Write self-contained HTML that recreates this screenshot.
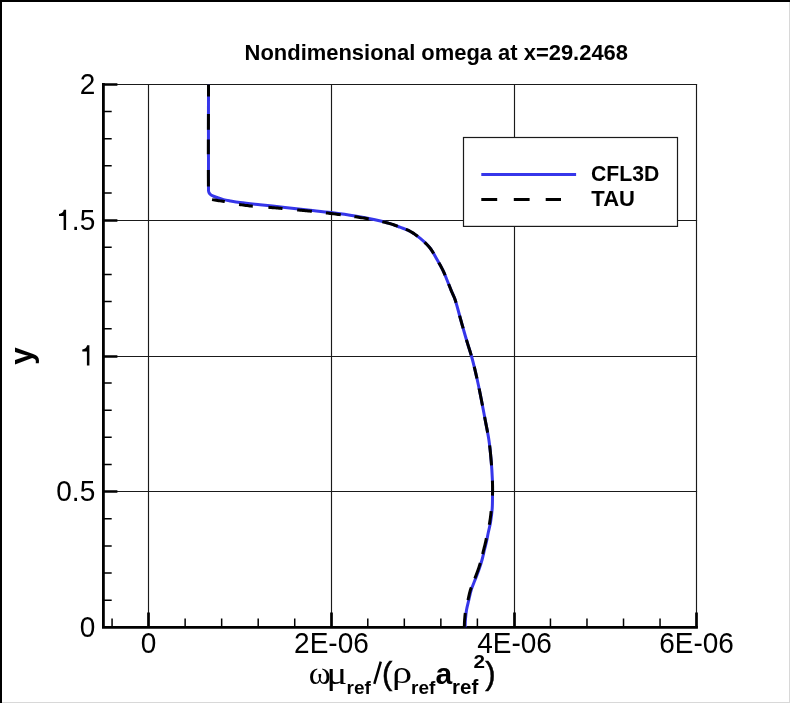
<!DOCTYPE html><html><head><meta charset="utf-8"><style>html,body{margin:0;padding:0;width:790px;height:703px;overflow:hidden;background:#fff}</style></head><body><svg width="790" height="703" viewBox="0 0 790 703" style="position:absolute;left:0;top:0;will-change:transform">
<rect x="0" y="0" width="790" height="703" fill="#fff"/>
<rect x="0" y="0" width="790" height="2" fill="#000"/>
<rect x="0" y="0" width="2" height="703" fill="#000"/>
<rect x="789" y="2" width="1" height="701" fill="#d8d8d8"/>
<rect x="2" y="702" width="788" height="1" fill="#d8d8d8"/>
<path d="M148.5 84.4V627.4 M331.5 84.4V627.4 M514.5 84.4V627.4 M696.5 84.4V627.4 M103.4 84.5H697.15 M103.4 220.5H697.15 M103.4 356.5H697.15 M103.4 491.5H697.15" stroke="#1a1a1a" stroke-width="1.15" fill="none"/>
<path d="M112.07 627.4V618.4 M185.13 627.4V618.4 M221.66 627.4V618.4 M258.20 627.4V618.4 M294.73 627.4V618.4 M367.79 627.4V618.4 M404.32 627.4V618.4 M440.86 627.4V618.4 M477.39 627.4V618.4 M550.45 627.4V618.4 M586.98 627.4V618.4 M623.52 627.4V618.4 M660.05 627.4V618.4 M103.4 600.25H111.7 M103.4 573.10H111.7 M103.4 545.95H111.7 M103.4 518.80H111.7 M103.4 464.50H111.7 M103.4 437.35H111.7 M103.4 410.20H111.7 M103.4 383.05H111.7 M103.4 328.75H111.7 M103.4 301.60H111.7 M103.4 274.45H111.7 M103.4 247.30H111.7 M103.4 193.00H111.7 M103.4 165.85H111.7 M103.4 138.70H111.7 M103.4 111.55H111.7" stroke="#000" stroke-width="1.5" fill="none"/>
<path d="M148.5 627.4V612.4 M331.5 627.4V612.4 M514.5 627.4V612.4 M696.5 627.4V612.4 M103.4 84.5H117.4 M103.4 220.5H117.4 M103.4 356.5H117.4 M103.4 491.5H117.4" stroke="#000" stroke-width="2.7" fill="none"/>
<path d="M103.4 83.05000000000001V627.4H697.9" stroke="#000" stroke-width="2.8" fill="none" stroke-linejoin="miter"/>
<defs><clipPath id="pc"><rect x="103.4" y="84.4" width="593.1" height="543.0"/></clipPath></defs>
<g clip-path="url(#pc)">
<path d="M208.50 84.40C208.50 119.73 208.27 155.10 208.50 190.40C208.51 191.30 208.81 192.22 209.20 193.00C209.51 193.62 210.05 194.17 210.60 194.60C211.25 195.10 212.04 195.46 212.80 195.80C214.17 196.42 215.58 196.99 217.00 197.50C219.14 198.26 221.30 199.02 223.50 199.60C225.63 200.16 227.82 200.52 230.00 200.90C233.32 201.48 236.65 202.07 240.00 202.50C246.65 203.35 253.33 204.02 260.00 204.75C268.33 205.66 276.67 206.49 285.00 207.40C293.34 208.31 301.67 209.26 310.00 210.20C317.00 210.99 324.01 211.70 331.00 212.60C339.01 213.63 347.03 214.70 355.00 216.00C361.70 217.10 368.37 218.36 375.00 219.80C380.04 220.89 385.06 222.14 390.00 223.60C393.39 224.60 396.69 225.94 400.00 227.20C403.36 228.48 406.88 229.48 410.00 231.20C413.54 233.15 416.89 235.59 420.00 238.20C423.56 241.19 427.11 244.38 430.00 248.00C432.78 251.48 434.76 255.62 437.00 259.50C439.09 263.12 441.17 266.75 443.00 270.50C444.50 273.58 445.70 276.82 447.00 280.00C448.36 283.32 449.64 286.68 451.00 290.00C452.37 293.35 454.08 296.57 455.20 300.00C457.35 306.57 458.92 313.34 460.80 320.00C462.68 326.67 464.54 333.35 466.50 340.00C468.27 346.02 470.37 351.95 472.00 358.00C473.97 365.28 475.65 372.64 477.30 380.00C478.79 386.64 480.08 393.32 481.40 400.00C482.71 406.66 483.95 413.33 485.20 420.00C486.45 426.66 487.91 433.30 488.90 440.00C489.88 446.63 490.52 453.32 491.10 460.00C491.68 466.65 492.13 473.33 492.40 480.00C492.60 484.99 492.53 490.00 492.50 495.00C492.47 499.57 492.53 504.15 492.20 508.70C491.87 513.28 491.24 517.86 490.50 522.40C489.97 525.63 489.07 528.79 488.40 532.00C487.70 535.33 487.14 538.68 486.40 542.00C485.80 544.68 485.05 547.33 484.40 550.00C483.59 553.33 482.92 556.70 482.00 560.00C481.06 563.37 479.96 566.70 478.80 570.00C477.62 573.36 476.27 576.67 475.00 580.00C473.73 583.33 472.25 586.60 471.20 590.00C470.19 593.27 469.58 596.66 468.80 600.00C468.02 603.33 467.07 606.63 466.50 610.00C465.94 613.30 465.67 616.66 465.40 620.00C465.20 622.46 465.20 624.93 465.10 627.40" stroke="#3636ea" stroke-width="3" fill="none" stroke-linejoin="round"/>
<path d="M208.50 84.40 L208.50 84.73 L208.50 86.07 L208.50 87.41 L208.50 88.74 L208.50 90.08 L208.50 91.42 L208.49 92.75 L208.49 94.09 L208.49 95.43 L208.49 96.60 M208.44 114.10 L208.44 114.15 L208.44 115.49 L208.44 116.82 L208.43 118.16 L208.43 119.50 L208.42 120.84 L208.42 122.17 L208.41 123.51 L208.41 124.85 L208.41 126.19 L208.40 127.52 L208.40 128.86 L208.39 129.80 M208.37 139.50 L208.37 139.56 L208.36 140.90 L208.36 142.23 L208.36 143.57 L208.36 144.91 L208.35 146.24 L208.35 147.58 L208.35 148.92 L208.35 150.26 L208.35 151.59 L208.34 152.93 L208.34 154.27 L208.34 154.30 M208.35 170.00 L208.35 170.30 L208.36 171.64 L208.36 172.97 L208.36 174.31 L208.37 175.64 L208.37 176.98 L208.38 178.32 L208.39 179.65 L208.39 180.99 L208.40 182.32 L208.41 183.66 L208.41 184.99 L208.42 186.33 L208.42 186.40 M212.10 199.58 L212.20 199.60 L213.52 199.85 L214.84 200.08 L216.16 200.29 L217.49 200.49 L218.82 200.68 L220.15 200.88 L221.48 201.07 L222.81 201.27 L224.14 201.49 L224.80 201.60 M239.10 204.38 L239.28 204.41 L240.60 204.65 L241.92 204.87 L243.25 205.08 L244.57 205.28 L245.90 205.45 L247.22 205.61 L248.55 205.76 L249.88 205.90 L251.20 206.03 L252.53 206.16 L252.80 206.18 M268.40 207.34 L268.51 207.35 L269.84 207.45 L271.17 207.55 L272.51 207.65 L273.84 207.76 L275.17 207.87 L276.50 207.99 L277.83 208.11 L279.17 208.22 L280.50 208.34 L281.84 208.46 L282.50 208.52 M297.20 209.88 L297.50 209.91 L298.84 210.04 L300.17 210.17 L301.50 210.30 L302.83 210.43 L304.17 210.57 L305.50 210.70 L306.83 210.84 L308.16 210.97 L309.49 211.11 L310.82 211.25 L311.90 211.36 M325.90 212.90 L326.10 212.92 L327.43 213.08 L328.76 213.23 L330.08 213.39 L331.41 213.55 L332.74 213.72 L334.06 213.88 L335.39 214.05 L336.71 214.22 L338.04 214.39 L339.36 214.56 L340.68 214.73 L340.80 214.75 M354.40 216.64 L354.57 216.66 L355.89 216.85 L357.21 217.05 L358.53 217.25 L359.85 217.45 L361.17 217.65 L362.49 217.86 L363.81 218.07 L365.13 218.30 L366.45 218.53 L367.77 218.77 L368.70 218.94 M382.30 221.72 L382.53 221.77 L383.84 222.06 L385.14 222.36 L386.45 222.67 L387.74 223.00 L389.03 223.33 L390.33 223.69 L391.64 224.09 L392.94 224.53 L394.23 224.99 L395.52 225.47 L396.80 225.96 L397.70 226.31 M405.80 229.30 L406.03 229.39 L407.28 229.90 L408.51 230.44 L409.71 231.04 L410.88 231.70 L412.04 232.39 L413.19 233.12 L414.32 233.87 L415.44 234.65 L416.54 235.45 L417.63 236.28 L417.80 236.42 M424.60 242.25 L424.77 242.40 L425.73 243.33 L426.68 244.28 L427.61 245.24 L428.50 246.23 L429.37 247.23 L430.21 248.26 L431.01 249.33 L431.77 250.44 L432.49 251.57 L433.19 252.72 L433.70 253.60 M438.80 262.64 L438.85 262.73 L439.52 263.91 L440.18 265.10 L440.83 266.29 L441.47 267.48 L442.09 268.68 L442.70 269.89 L443.30 271.12 L443.87 272.37 L444.42 273.63 L444.95 274.90 L445.10 275.28 M448.61 284.00 L448.63 284.06 L449.12 285.31 L449.62 286.56 L450.12 287.82 L450.62 289.06 L451.13 290.31 L451.66 291.56 L452.22 292.80 L452.78 294.04 L453.33 295.28 L453.87 296.52 L454.39 297.77 L454.87 299.04 L455.30 300.32 L455.71 301.59 L456.08 302.80 M459.60 315.60 L459.65 315.80 L460.00 317.09 L460.35 318.39 L460.71 319.68 L461.07 320.97 L461.44 322.26 L461.80 323.55 L462.16 324.84 L462.53 326.13 L462.89 327.43 L463.17 328.40 M466.41 339.70 L466.50 340.00 L466.88 341.29 L467.28 342.57 L467.68 343.86 L468.08 345.14 L468.49 346.42 L468.89 347.70 L469.30 348.99 L469.71 350.27 L470.11 351.55 L470.51 352.84 L470.89 354.12 L471.27 355.40 M474.25 366.80 L474.26 366.83 L474.57 368.15 L474.89 369.46 L475.20 370.78 L475.50 372.09 L475.81 373.41 L476.11 374.73 L476.41 376.05 L476.71 377.36 L476.96 378.50 M479.11 388.50 L479.11 388.51 L479.38 389.82 L479.64 391.13 L479.91 392.45 L480.17 393.76 L480.43 395.07 L480.69 396.39 L480.95 397.70 L481.21 399.01 L481.46 400.33 L481.72 401.64 L481.98 402.95 L482.23 404.26 L482.48 405.57 L482.49 405.60 M484.62 416.90 L484.65 417.05 L484.89 418.36 L485.14 419.67 L485.39 420.98 L485.64 422.29 L485.89 423.60 L486.15 424.91 L486.41 426.22 L486.67 427.53 L486.92 428.84 L487.18 430.15 L487.43 431.46 L487.65 432.60 M489.63 445.40 L489.66 445.65 L489.81 446.98 L489.97 448.31 L490.11 449.65 L490.25 450.98 L490.39 452.32 L490.52 453.65 L490.65 454.99 L490.77 456.33 L490.89 457.66 L491.01 459.00 L491.13 460.33 L491.24 461.66 L491.35 463.00 L491.46 464.33 L491.53 465.30 M492.42 480.60 L492.43 480.67 L492.47 482.00 L492.51 483.33 L492.55 484.67 L492.57 486.00 L492.59 487.33 L492.60 488.67 L492.60 490.00 L492.58 491.34 L492.56 492.67 L492.53 494.00 L492.49 495.33 L492.48 495.60 M491.14 511.20 L491.12 511.38 L490.98 512.72 L490.83 514.06 L490.67 515.40 L490.51 516.74 L490.34 518.07 L490.15 519.41 L489.96 520.74 L489.75 522.07 L489.53 523.40 L489.27 524.70 M486.38 538.20 L486.36 538.34 L486.09 539.67 L485.82 541.00 L485.52 542.34 L485.21 543.67 L484.88 545.01 L484.54 546.34 L484.19 547.67 L483.85 549.00 L483.52 550.33 L483.20 551.67 L482.90 553.01 L482.65 554.10 M480.32 563.00 L480.24 563.25 L479.84 564.54 L479.42 565.83 L478.99 567.12 L478.55 568.40 L478.11 569.68 L477.66 570.94 L477.20 572.20 L476.73 573.45 L476.25 574.70 L475.77 575.95 L475.28 577.19 L474.81 578.40 M471.29 587.40 L471.26 587.47 L470.81 588.73 L470.40 590.00 L470.02 591.31 L469.67 592.64 L469.34 593.97 L469.04 595.31 L468.75 596.65 L468.45 597.99 L468.15 599.33 L467.95 600.20 M465.26 613.00 L465.23 613.32 L465.08 614.65 L464.94 615.99 L464.82 617.33 L464.71 618.66 L464.60 620.00 L464.51 621.34 L464.45 622.69 L464.40 624.03 L464.37 625.38 L464.33 626.73 L464.30 627.40" stroke="#000" stroke-width="3" fill="none" stroke-linejoin="round"/>
</g>
<rect x="463.5" y="137.5" width="214" height="88.9" fill="#fff" stroke="#1a1a1a" stroke-width="1.2"/>
<path d="M481.3 174.4H576.1" stroke="#3636ea" stroke-width="3"/>
<path d="M481.3 199.4H497.2M513.8 199.4H529.6M545.7 199.4H561" stroke="#000" stroke-width="3"/>
<text x="591" y="180.6" font-family="Liberation Sans" font-weight="bold" font-size="21.2">CFL3D</text>
<text transform="translate(591.3 205.6) scale(1.03 1)" x="0" y="0" font-family="Liberation Sans" font-weight="bold" font-size="21.4">TAU</text>
<text transform="translate(244.6 60.1) scale(1 1.02)" font-family="Liberation Sans" font-weight="bold" font-size="21.95">Nondimensional omega at x=29.2468</text>
<text transform="translate(95.2 94.0) scale(1 1.05)" font-family="Liberation Sans" font-size="28" text-anchor="end">2</text>
<path transform="translate(-23.3 -135.5)" d="M89.4 365.4H86.9V351.6H82.3V349.4C84.8 349.3 86.6 348.2 87.1 345.3H89.4Z" fill="#000"/>
<text transform="translate(95.2 230.0) scale(1 1.05)" font-family="Liberation Sans" font-size="28" text-anchor="end">.5</text>
<path transform="translate(0 0)" d="M89.4 365.4H86.9V351.6H82.3V349.4C84.8 349.3 86.6 348.2 87.1 345.3H89.4Z" fill="#000"/>
<text transform="translate(95.2 501.1) scale(1 1.05)" font-family="Liberation Sans" font-size="28" text-anchor="end">0.5</text>
<text transform="translate(95.2 637.0) scale(1 1.05)" font-family="Liberation Sans" font-size="28" text-anchor="end">0</text>
<text transform="translate(148.5 653.3) scale(1 1.05)" font-family="Liberation Sans" font-size="28" text-anchor="middle">0</text>
<text transform="translate(331.45 653.3) scale(1 1.05)" font-family="Liberation Sans" font-size="28" text-anchor="middle">2E-06</text>
<text transform="translate(514.5 653.3) scale(1 1.05)" font-family="Liberation Sans" font-size="28" text-anchor="middle">4E-06</text>
<text transform="translate(696.5 653.3) scale(1 1.05)" font-family="Liberation Sans" font-size="28" text-anchor="middle">6E-06</text>
<text transform="translate(31.8,356) rotate(-90)" font-family="Liberation Sans" font-weight="bold" font-size="31.5" text-anchor="middle">y</text>
<text transform="translate(308.7 684.1) scale(1.08 1)" font-family="Liberation Serif" font-size="31">ω</text>
<text transform="translate(326.5 684.1) scale(1.25 1)" font-family="Liberation Serif" font-size="31">μ</text>
<text x="346.5" y="693.8" font-family="Liberation Sans" font-weight="bold" font-size="19">ref</text>
<path d="M374.3 683.8L380.8 661.6" stroke="#000" stroke-width="2.5"/>
<text x="382" y="684.4" font-family="Liberation Sans" font-size="31" stroke="#000" stroke-width="0.5">(</text>
<text x="392" y="683.5" font-family="Liberation Serif" font-size="31" transform="translate(392 0) scale(1.3 1) translate(-392 0)">ρ</text>
<text x="411" y="693.8" font-family="Liberation Sans" font-weight="bold" font-size="19">ref</text>
<text x="435.5" y="683.5" font-family="Liberation Sans" font-weight="bold" font-size="30">a</text>
<text x="452" y="693.8" font-family="Liberation Sans" font-weight="bold" font-size="20.5">ref</text>
<text transform="translate(473.4 667.6) scale(1.15 1)" font-family="Liberation Sans" font-weight="bold" font-size="18">2</text>
<text x="485.3" y="684.4" font-family="Liberation Sans" font-size="31" stroke="#000" stroke-width="0.5">)</text>
</svg></body></html>
